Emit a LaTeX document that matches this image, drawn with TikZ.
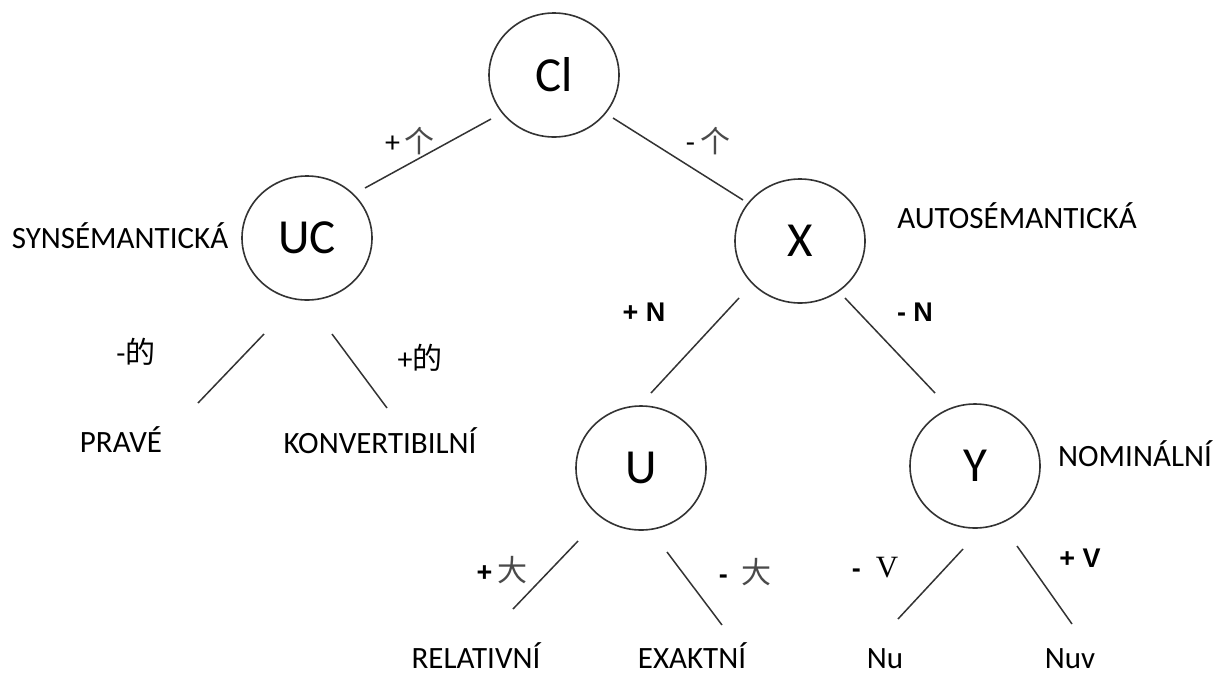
\documentclass[tikz,border=0pt]{standalone}
\usepackage{fontspec}
\setmainfont{Carlito}
\newfontfamily\cjk{Noto Sans CJK SC}
\newfontfamily\arialf{Liberation Sans}
\newfontfamily\timesf{Liberation Serif}
\usetikzlibrary{shapes.geometric}
\definecolor{linec}{HTML}{333333}
\definecolor{hanc}{HTML}{4A4A4A}
\tikzset{
  treenode/.style={ellipse, draw=linec, line width=1.6pt, minimum width=130pt, minimum height=124pt, inner sep=0pt, font=\fontsize{49}{49}\selectfont},
  edge/.style={draw=linec, line width=1.5pt},
  word/.style={inner sep=0pt, font=\fontsize{31}{31}\selectfont},
  feat/.style={inner sep=0pt, font=\arialf\bfseries\fontsize{27}{27}\selectfont},
  hanlab/.style={inner sep=0pt, font=\fontsize{30}{30}\selectfont}
}
\begin{document}
\begin{tikzpicture}[x=1pt,y=-1pt]
\path[use as bounding box] (0,0) rectangle (1223,678);
% tree nodes
\node[treenode] (Cl) at (554,75) {Cl};
\node[treenode] (UC) at (307,238) {UC};
\node[treenode] (X) at (800,241) {X};
\node[treenode] (U) at (641,468) {U};
\node[treenode] (Y) at (975,466) {Y};
% category words
\node[word] (syn) at (120,236) {SYNSÉMANTICKÁ};
\node[word] (auto) at (1017,216) {AUTOSÉMANTICKÁ};
\node[word] (prave) at (121,440) {PRAVÉ};
\node[word] (konv) at (380,441) {KONVERTIBILNÍ};
\node[word] (nomi) at (1135,454) {NOMINÁLNÍ};
\node[word, anchor=base] (rel) at (476,668) {RELATIVNÍ};
\node[word, anchor=base] (exa) at (692,668) {EXAKTNÍ};
\node[word, anchor=base] (nu) at (885,668) {Nu};
\node[word, anchor=base] (nuv) at (1070,668) {Nuv};
% feature labels
\node[hanlab] (pge) at (410,141) {+\,{\cjk\color{hanc}个}};
\node[hanlab] (mge) at (708,141) {-\,{\cjk\color{hanc}个}};
\node[hanlab] (mde) at (136,352) {-{\cjk 的}};
\node[hanlab] (pde) at (420,358) {+{\cjk 的}};
\node[feat] (pN) at (644,312) {+ N};
\node[feat] (mN) at (915,312) {- N};
\node[hanlab] (pda) at (502,570) {{\arialf\bfseries\fontsize{27}{27}\selectfont+}\,{\cjk\color{hanc}大}};
\node[hanlab] (mda) at (745,572) {{\arialf\bfseries\fontsize{27}{27}\selectfont-}\;\,{\cjk\color{hanc}大}};
\node[feat] (mV) at (875,568) {-\; {\timesf\mdseries\fontsize{31}{31}\selectfont V}};
\node[feat] (pV) at (1080,558) {+ V};
% connector ends
\coordinate (a1) at (491,119); \coordinate (b1) at (365,188);
\coordinate (a2) at (613,118); \coordinate (b2) at (743,200);
\coordinate (a3) at (264,334); \coordinate (b3) at (198,403);
\coordinate (a4) at (332,334); \coordinate (b4) at (387,408);
\coordinate (a5) at (739,298); \coordinate (b5) at (651,393);
\coordinate (a6) at (845,298); \coordinate (b6) at (935,393);
\coordinate (a7) at (578,541); \coordinate (b7) at (513,609);
\coordinate (a8) at (667,552); \coordinate (b8) at (722,625);
\coordinate (a9) at (963,549); \coordinate (b9) at (898,619);
\coordinate (a10) at (1017,546); \coordinate (b10) at (1072,624);
\foreach \i in {1,...,10} {\draw[edge] (a\i) -- (b\i);}
\end{tikzpicture}
\end{document}
